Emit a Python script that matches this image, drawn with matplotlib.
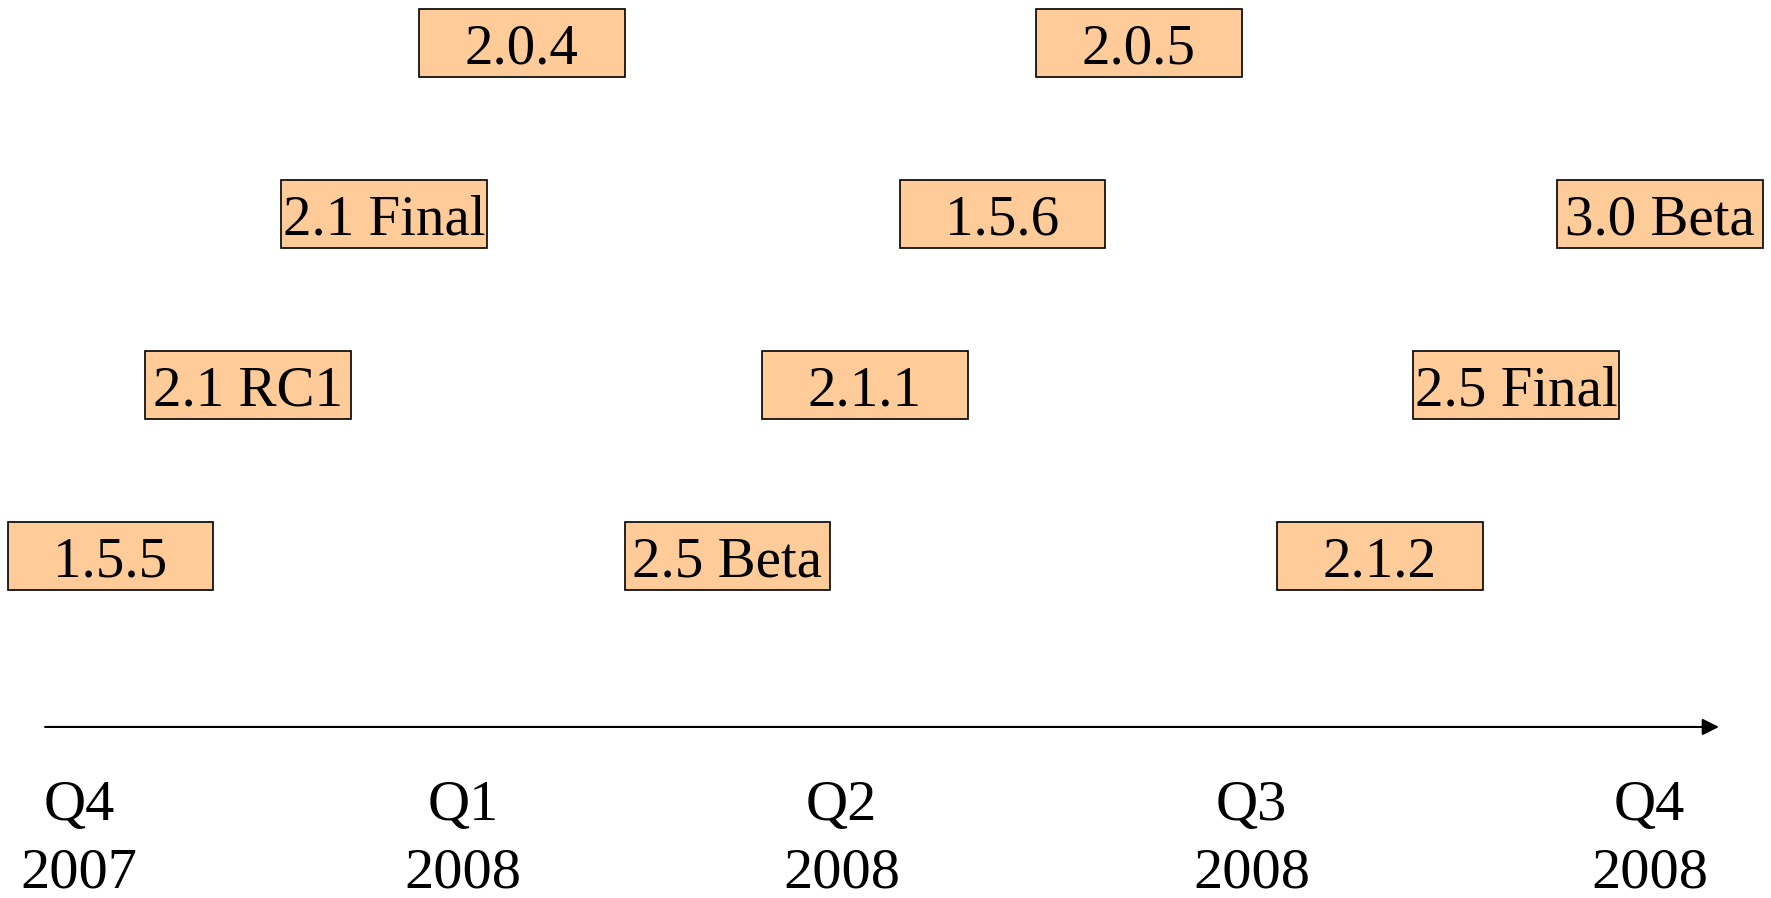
import matplotlib
matplotlib.use("Agg")
import matplotlib.pyplot as plt
from matplotlib.patches import Rectangle

# releases: name, position in months after Q4 2007, lane (0 = bottom row)
releases = ["1.5.5", "2.1 RC1", "2.1 Final", "2.0.4", "2.5 Beta", "2.1.1",
            "1.5.6", "2.0.5", "2.1.2", "2.5 Final", "3.0 Beta"]
months = [0.24, 1.29, 2.33, 3.38, 4.95, 6.0, 7.05, 8.09, 9.93, 10.97, 12.07]
lanes = [0, 1, 2, 3, 0, 1, 2, 3, 0, 1, 2]

quarters = ["Q4", "Q1", "Q2", "Q3", "Q4"]
years = ["2007", "2008", "2008", "2008", "2008"]
quarter_pos = [0.0, 2.93, 5.82, 8.95, 11.99]

plt.rcParams['font.family'] = ['Liberation Serif', 'DejaVu Serif']

fig = plt.figure(figsize=(17.71, 8.98), dpi=100)
ax = fig.add_axes([0, 0, 1, 1])
ax.set_xlim(-0.603, 12.916)
ax.set_ylim(-2.0, 3.25)
ax.axis('off')

box_w = 1.57
box_h = 0.4
for name, m, lane in zip(releases, months, lanes):
    ax.add_patch(Rectangle((m - box_w / 2, lane - box_h / 2), box_w, box_h,
                           facecolor='#FFCC99', edgecolor='black', linewidth=1.2))
    ax.text(m, lane - 0.04, name, ha='center', va='center', fontsize=41)

# time arrow
ax.annotate('', xy=(12.54, -1.0), xytext=(-0.28, -1.0),
            arrowprops=dict(arrowstyle='-|>', color='black', lw=1.5,
                            mutation_scale=25))

for q, y, p in zip(quarters, years, quarter_pos):
    ax.text(p, -1.46, q, ha='center', va='center', fontsize=42)
    ax.text(p, -1.855, y, ha='center', va='center', fontsize=42)

fig.savefig('out.png', dpi=100)
